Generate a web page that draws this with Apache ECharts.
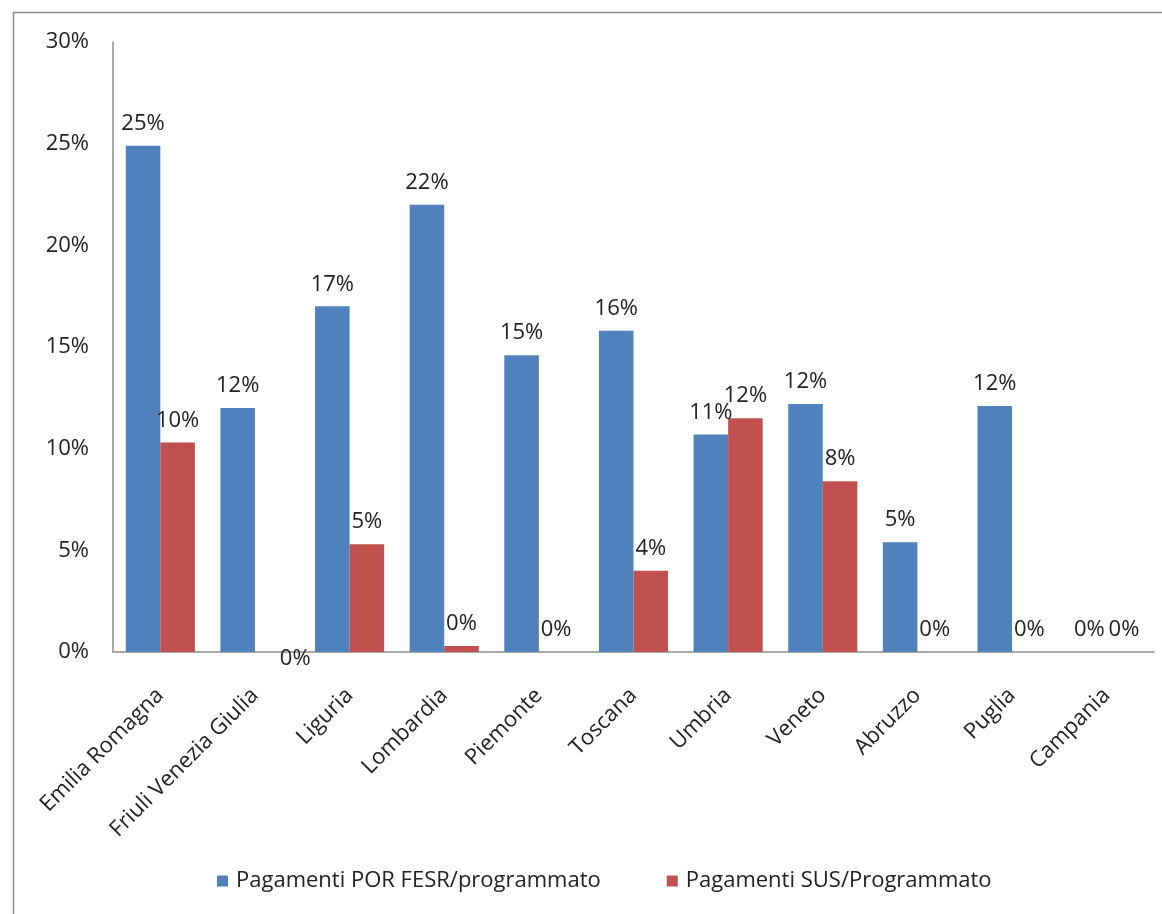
<!DOCTYPE html>
<html>
<head>
<meta charset="utf-8">
<title>Pagamenti / Programmato per regione</title>
<script src="https://cdn.jsdelivr.net/npm/echarts@6/dist/echarts.min.js"></script>
<style>
  html, body { margin: 0; padding: 0; background: #ffffff; }
  #chart { width: 1162px; height: 914px; }
</style>
</head>
<body>
<div id="chart"></div>
<script>
// Regions on the category axis
const regions = [
  'Emilia Romagna', 'Friuli Venezia Giulia', 'Liguria', 'Lombardia', 'Piemonte',
  'Toscana', 'Umbria', 'Veneto', 'Abruzzo', 'Puglia', 'Campania'
];

// Share of payments over programmed amount (fractions)
const porFesr = [0.249, 0.120, 0.170, 0.220, 0.146, 0.158, 0.107, 0.122, 0.054, 0.121, 0.0];
const sus     = [0.103, 0.0,   0.053, 0.003, 0.0,   0.040, 0.115, 0.084, 0.0,   0.0,   0.0];

const seriesNames = ['Pagamenti POR FESR/programmato', 'Pagamenti SUS/Programmato'];

// Value axis ticks
const yMin = 0, yMax = 0.30, yStep = 0.05;

const FONT = '"Open Sans", "Noto Sans", sans-serif';
const TEXT = '#222222';

const pct = v => Math.round(v * 100) + '%';

const labelBase = {
  show: true,
  position: 'top',
  distance: 11,
  fontFamily: FONT,
  fontSize: 22,
  color: TEXT,
  formatter: p => pct(p.value)
};

// Friuli's SUS label sits just under the baseline
const susData = sus.map((v, i) => i === 1
  ? { value: v, label: { position: 'bottom', distance: -4, offset: [23, 0] } }
  : v);

const chart = echarts.init(document.getElementById('chart'), null, { renderer: 'canvas' });

chart.setOption({
  backgroundColor: '#ffffff',
  animation: false,
  graphic: [{
    type: 'rect',
    shape: { x: 13.5, y: 12.5, width: 1300, height: 1100 },
    style: { fill: 'none', stroke: '#8a8a8a', lineWidth: 1.5 },
    silent: true
  }],
  grid: { left: 113, right: 8, top: 42, bottom: 262, containLabel: false },
  legend: {
    data: seriesNames,
    bottom: 17,
    left: 212,
    itemWidth: 11,
    itemHeight: 11,
    itemGap: 66,
    icon: 'rect',
    textStyle: { fontFamily: FONT, fontSize: 22, color: TEXT, padding: [0, 0, 0, 3] }
  },
  xAxis: {
    type: 'category',
    data: regions,
    axisLine: { show: true, lineStyle: { color: '#8c8c8c', width: 1.5 } },
    axisTick: { show: false },
    axisLabel: {
      interval: 0,
      rotate: 45,
      margin: 40,
      fontFamily: FONT,
      fontSize: 22,
      color: TEXT
    }
  },
  yAxis: {
    type: 'value',
    min: yMin,
    max: yMax,
    interval: yStep,
    axisLine: { show: true, lineStyle: { color: '#8c8c8c', width: 1.5 } },
    axisTick: { show: false },
    splitLine: { show: false },
    axisLabel: {
      margin: 24,
      fontFamily: FONT,
      fontSize: 22,
      color: TEXT,
      formatter: v => Math.round(v * 100) + '%'
    }
  },
  series: [
    {
      name: seriesNames[0],
      type: 'bar',
      data: porFesr,
      barGap: '0%',
      barCategoryGap: '27%',
      itemStyle: { color: '#4F81BD' },
      label: labelBase
    },
    {
      name: seriesNames[1],
      type: 'bar',
      data: susData,
      barGap: '0%',
      barCategoryGap: '27%',
      itemStyle: { color: '#C0504D' },
      label: labelBase
    }
  ]
});
</script>
</body>
</html>
